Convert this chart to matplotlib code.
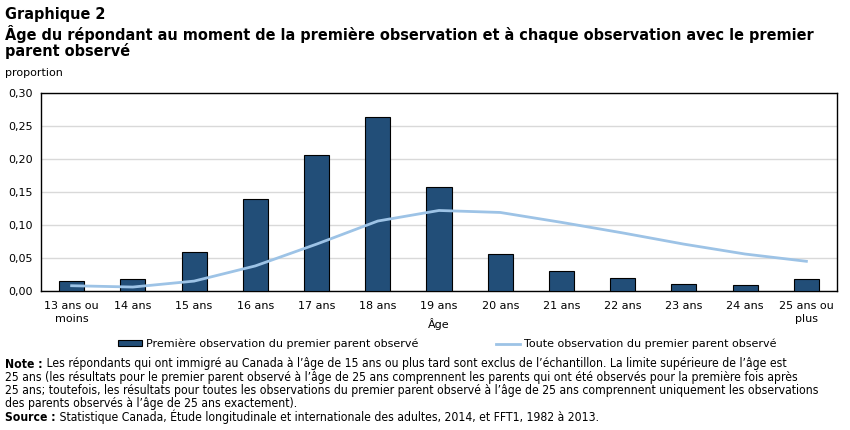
import matplotlib
matplotlib.use("Agg")
import matplotlib.pyplot as plt
from matplotlib.lines import Line2D
from matplotlib.patches import Patch
import numpy as np

categories = ["13 ans ou\nmoins", "14 ans", "15 ans", "16 ans", "17 ans", "18 ans",
              "19 ans", "20 ans", "21 ans", "22 ans", "23 ans", "24 ans", "25 ans ou\nplus"]
premiere_obs = [0.015, 0.018, 0.059, 0.139, 0.206, 0.264, 0.157, 0.056, 0.030, 0.020, 0.011, 0.009, 0.018]
toute_obs = [0.008, 0.006, 0.015, 0.038, 0.071, 0.106, 0.122, 0.119, 0.104, 0.088, 0.071, 0.056, 0.045]
yticks = [0.0, 0.05, 0.10, 0.15, 0.20, 0.25, 0.30]
ytick_labels = ["0,00", "0,05", "0,10", "0,15", "0,20", "0,25", "0,30"]

bar_color = "#224e78"
line_color = "#9dc3e6"

fig = plt.figure(figsize=(8.5, 4.3), dpi=100)
ax = fig.add_axes([41/850, 1-291/430, 796/850, 198/430])

x = np.arange(len(categories))
ax.bar(x, premiere_obs, width=0.41, color=bar_color, edgecolor="black", linewidth=0.8, zorder=3)
ax.plot(x, toute_obs, color=line_color, linewidth=2, zorder=4)

ax.set_xlim(-0.5, len(categories)-0.5)
ax.set_ylim(0, 0.30)
ax.set_yticks(yticks)
ax.set_yticklabels(ytick_labels, fontsize=8)
ax.set_xticks(x)
ax.set_xticklabels(categories, fontsize=8, linespacing=1.35)
ax.tick_params(axis="both", length=0)
ax.tick_params(axis="x", pad=7)
ax.tick_params(axis="y", pad=6)
ax.grid(axis="y", color="#d9d9d9", linewidth=1, zorder=0)
for s in ax.spines.values():
    s.set_color("black")
    s.set_linewidth(1)
ax.set_xlabel("Âge", fontsize=8, labelpad=-4)

fig.text(5/850, 1-73/430, "proportion", fontsize=8, va="center", ha="left")

title_kw = dict(fontsize=11.6, fontweight="bold", fontstretch="condensed", ha="left", va="center", family="DejaVu Sans")
fig.text(5/850, 1-15/430, "Graphique 2", **title_kw)
fig.text(5/850, 1-34/430, "Âge du répondant au moment de la première observation et à chaque observation avec le premier", **title_kw)
fig.text(5/850, 1-51/430, "parent observé", **title_kw)

handles = [Patch(facecolor=bar_color, edgecolor="black", linewidth=0.8),
           Line2D([0], [0], color=line_color, linewidth=2)]
labels = ["Première observation du premier parent observé", "Toute observation du premier parent observé"]
fig.legend(handles, labels, loc="center", bbox_to_anchor=(447/850, 1-344/430), ncol=2, frameon=False,
           fontsize=8, handlelength=2.2, handleheight=0.5, handletextpad=0.3, columnspacing=7)

note_kw = dict(fontsize=8.7, fontstretch="condensed", va="center", family="DejaVu Sans")
y0 = 364
dy = 13.3
tn = fig.text(5/850, 1-y0/430, "Note :", fontweight="bold", ha="left", **note_kw)
ax.annotate(" Les répondants qui ont immigré au Canada à l’âge de 15 ans ou plus tard sont exclus de l’échantillon. La limite supérieure de l’âge est",
            xy=(1, 0.5), xycoords=tn, ha="left", annotation_clip=False, **note_kw)
fig.text(5/850, 1-(y0+dy)/430, "25 ans (les résultats pour le premier parent observé à l’âge de 25 ans comprennent les parents qui ont été observés pour la première fois après", ha="left", **note_kw)
fig.text(5/850, 1-(y0+2*dy)/430, "25 ans; toutefois, les résultats pour toutes les observations du premier parent observé à l’âge de 25 ans comprennent uniquement les observations", ha="left", **note_kw)
fig.text(5/850, 1-(y0+3*dy)/430, "des parents observés à l’âge de 25 ans exactement).", ha="left", **note_kw)
ts = fig.text(5/850, 1-(y0+4*dy)/430, "Source :", fontweight="bold", ha="left", **note_kw)
ax.annotate(" Statistique Canada, Étude longitudinale et internationale des adultes, 2014, et FFT1, 1982 à 2013.",
            xy=(1, 0.5), xycoords=ts, ha="left", annotation_clip=False, **note_kw)

fig.savefig("out.png", dpi=100)
